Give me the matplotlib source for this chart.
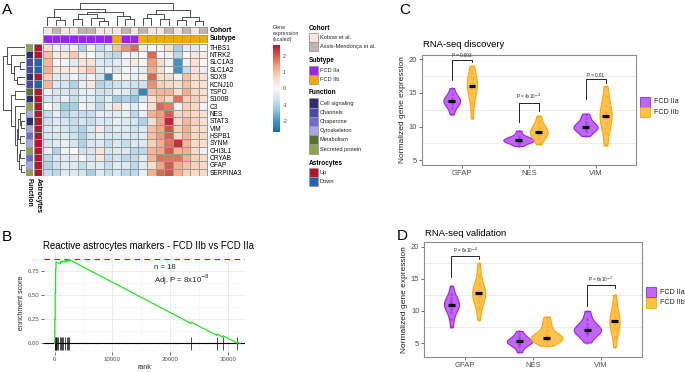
import numpy as np
import matplotlib
matplotlib.use("Agg")
import matplotlib.pyplot as plt
from matplotlib.colors import LinearSegmentedColormap, ListedColormap
from matplotlib.patches import Rectangle

plt.rcParams["font.family"] = ["Liberation Sans", "DejaVu Sans"]
plt.rcParams["axes.unicode_minus"] = False

# ---------------- data: panel A (heatmap) ----------------
genes = ["THBS1", "NTRK2", "SLC1A3", "SLC1A2", "SOX9", "KCNJ10", "TSPO", "S100B", "C3",
         "NES", "STAT3", "VIM", "HSPB1", "SYNM", "CHI3L1", "CRYAB", "GFAP", "SERPINA3"]
expr = [
    [0.6, -0.2, -0.4, 0.2, -1.0, 0.2, -0.8, -0.4, 1.0, 1.5, 1.9, -0.3, 0.0, -0.1, 0.5, -1.1, -0.4, -0.4, -0.1],
    [1.0, 0.3, 0.4, 0.9, 0.2, 0.0, -0.5, -0.8, -0.9, 0.0, -0.2, 0.0, 1.9, -0.1, -0.2, -0.9, 0.0, 0.4, 0.3],
    [1.1, 0.0, -0.1, -0.4, 0.4, 0.5, -0.5, -0.6, -0.4, -0.2, 0.3, -0.1, 1.4, 0.6, -0.2, -2.0, -0.2, 0.5, 0.0],
    [1.2, 0.4, 0.4, 0.3, 0.6, 0.9, -0.4, -0.2, -0.6, -0.1, -0.2, -0.3, 1.2, 0.6, 0.0, -2.0, -0.8, 0.5, -0.3],
    [0.8, -0.4, -0.4, -0.2, -0.5, -0.2, -0.6, -2.2, 0.0, -0.1, -0.3, 0.2, 1.9, 0.6, 0.6, -0.1, 1.0, 0.6, 0.5],
    [1.1, -0.5, -0.6, -1.0, -0.3, 0.4, -1.0, -0.8, -0.7, -0.6, -0.7, -0.7, 1.5, 0.8, 0.7, 0.6, 1.0, 0.6, 0.6],
    [-0.2, -0.6, -0.6, -0.7, -0.3, -0.3, -0.7, -0.7, -0.3, -0.4, -0.9, -2.2, 1.0, 1.1, 1.1, 0.6, 1.2, 0.7, 0.6],
    [-0.6, -0.6, -0.3, -0.8, -0.3, -0.4, -0.8, -0.4, -1.2, -1.0, -1.3, -0.6, 0.5, 1.0, 0.7, 1.8, 0.8, 0.8, 0.6],
    [0.0, -0.4, -1.2, -1.1, -0.1, -0.3, -0.9, -0.3, 0.5, -0.2, -0.4, 0.0, 0.6, 1.9, 1.7, -0.2, 0.8, 0.7, -0.2],
    [-0.8, -0.3, -0.9, -0.7, -0.8, -0.8, -0.3, -0.4, -0.4, -0.3, -0.9, -0.3, 1.2, 1.4, 2.0, 0.7, 0.8, 0.7, 0.6],
    [-0.7, -0.4, -0.6, -0.8, -0.6, -0.8, -0.5, -0.6, -0.3, -0.5, -0.6, -1.0, 0.6, 1.3, 2.5, 0.7, 1.1, 0.8, 0.6],
    [-0.5, -0.4, -0.6, -0.8, -1.0, -0.5, 0.3, -0.7, -0.4, -0.5, -0.7, -0.5, 1.0, 1.3, 2.1, 0.8, 1.2, 0.7, 0.6],
    [-0.6, -0.6, -0.4, -0.7, -1.0, -0.6, -0.3, -0.6, -0.6, -0.5, -0.6, -0.4, 1.0, 1.4, 2.0, 0.7, 1.1, 0.7, 0.7],
    [-0.6, -0.4, -0.3, -0.6, -1.0, -0.5, -0.4, -0.8, -0.5, -0.8, -0.5, -0.5, 0.8, 1.2, 1.8, 2.4, 1.1, 0.7, 0.6],
    [-0.3, -1.0, -0.2, 0.0, -0.7, -0.6, 0.5, -0.6, -0.4, -0.5, -0.9, -0.9, 1.1, 1.3, 2.0, 1.1, 1.2, 0.7, -0.2],
    [-0.9, -0.6, -0.4, -0.4, -0.1, -0.6, 0.4, -0.8, -0.6, -0.9, -0.8, -0.4, 1.1, 1.8, 1.8, 1.8, 1.2, 0.8, 0.7],
    [-1.0, -0.7, -0.4, -0.5, -0.8, -0.5, -0.4, -0.8, -0.4, -0.5, -0.9, -0.4, 0.6, 1.3, 2.0, 1.2, 1.0, 0.8, 0.7],
    [-0.8, -0.9, -0.4, -0.5, -0.6, -1.1, -0.4, -0.8, -0.6, -0.9, -0.9, -0.3, 1.2, 1.9, 2.1, 1.2, 0.8, 0.7, 0.7],
]
cohort_levels = ["Kobow et al.", "Assis-Mendonça et al."]
cohort = [0, 1, 0, 0, 1, 1, 0, 0, 0, 1, 0, 1, 0, 0, 1, 0, 1, 0, 1]
subtype_levels = ["FCD IIa", "FCD IIb"]
subtype = [0, 0, 0, 0, 0, 0, 0, 0, 1, 0, 0, 1, 1, 1, 1, 1, 1, 1, 1]
function_levels = ["Cell signaling", "Channels", "Chaperone", "Cytoskeleton", "Metabolism", "Secreted protein"]
gene_function = [5, 0, 1, 1, 0, 1, 4, 0, 5, 3, 0, 3, 2, 3, 5, 2, 3, 5]
astro_levels = ["Up", "Down"]
astro = [0, 0, 1, 1, 0, 1, 0, 0, 0, 0, 0, 0, 0, 0, 0, 0, 0, 0]

# linkage-style merges (a, b, height); ids >= n refer to earlier merges
col_tree = [(1, 2, 0.25), (0, 19, 0.4), (3, 4, 0.3), (6, 7, 0.2), (5, 22, 0.35),
            (21, 23, 0.5), (9, 10, 0.3), (8, 25, 0.45), (24, 26, 0.6), (20, 27, 0.75),
            (11, 12, 0.35), (13, 14, 0.3), (29, 30, 0.5), (15, 16, 0.25), (17, 18, 0.2),
            (32, 33, 0.4), (31, 34, 0.7), (28, 35, 1.0)]
row_tree = [(2, 3, 0.2), (4, 5, 0.35), (18, 19, 0.5), (1, 20, 0.6), (0, 21, 0.8),
            (6, 7, 0.45), (10, 11, 0.15), (9, 24, 0.2), (12, 13, 0.2), (25, 26, 0.3),
            (14, 15, 0.2), (16, 17, 0.15), (28, 29, 0.25), (27, 30, 0.35), (8, 31, 0.45),
            (23, 32, 0.6), (22, 33, 1.0)]

# ---------------- data: panel B (enrichment) ----------------
es_rank = [0, 30, 30, 100, 100, 180, 180, 250, 250, 1000, 1000, 1300, 1300, 1800, 1800,
           2100, 2100, 2500, 2500, 23650, 23650, 28100, 28100, 29160, 29160, 31650, 31650, 32100]
es_value = [0, 0, 0.25, 0.25, 0.52, 0.52, 0.77, 0.77, 0.84, 0.82, 0.845, 0.835, 0.85, 0.84, 0.855,
            0.845, 0.86, 0.85, 0.866, 0.205, 0.22, 0.081, 0.096, 0.063, 0.078, 0.0, 0.015, 0.0]
hit_ranks = [30, 100, 180, 250, 400, 600, 1000, 1150, 1300, 1500, 1800, 2100, 2300, 2500,
             23650, 28100, 29160, 31650]

# ---------------- data: panels C / D (violins) ----------------
markers = ["GFAP", "NES", "VIM"]
disc_iia = [[11.8, 12.8, 13.3, 13.6, 13.8, 13.8, 14.0, 14.3, 14.8, 15.7],
            [7.1, 7.6, 7.8, 7.9, 8.0, 8.0, 8.1, 8.3, 8.6, 9.4],
            [8.6, 9.3, 9.6, 9.8, 9.9, 10.0, 10.2, 10.6, 11.3, 11.9]]
disc_iib = [[11.2, 13.5, 15.0, 15.6, 16.0, 16.1, 16.5, 17.2, 18.0, 19.0],
            [7.4, 8.3, 8.8, 9.0, 9.1, 9.2, 9.5, 10.0, 10.6, 11.6],
            [7.2, 9.0, 10.5, 11.2, 11.5, 11.7, 12.2, 13.0, 14.5, 16.0]]
disc_p = ["P = 0.003", "P = 4x10$^{-4}$", "P = 0.01"]
valid_iia = [[7.5, 8.8, 9.8, 10.3, 10.7, 10.9, 11.0, 11.1, 11.3, 11.6, 12.0, 12.6, 13.9],
             [3.6, 4.5, 4.9, 5.1, 5.2, 5.3, 5.3, 5.5, 5.8, 6.3, 6.9],
             [5.1, 6.2, 6.6, 6.8, 7.0, 7.1, 7.2, 7.5, 8.0, 8.8, 10.0]]
valid_iib = [[8.6, 10.5, 11.5, 12.2, 12.5, 12.7, 12.8, 13.0, 13.4, 14.2, 15.5, 17.4],
             [4.6, 5.3, 5.5, 5.6, 5.7, 5.8, 5.8, 5.9, 6.0, 6.3, 6.9, 7.6, 8.3, 9.1],
             [4.4, 6.0, 7.2, 7.9, 8.2, 8.4, 8.5, 9.0, 9.8, 11.0, 12.5]]
valid_p = ["P = 6x10$^{-4}$", None, "P = 6x10$^{-3}$"]

# ---------------- styling ----------------
PURPLE, ORANGE = "#A020F0", "#FFA500"
cohort_colors = ["#FCE3E3", "#C9B1B1"]
function_colors = ["#2E2E70", "#4B4BA6", "#6A6AD2", "#A7A7E3", "#5A7030", "#90A34C"]
astro_colors = ["#B2182B", "#2166AC"]
hm_cmap = LinearSegmentedColormap.from_list(
    "rdbu", ["#2166AC", "#4393C3", "#92C5DE", "#D1E5F0", "#F7F7F7",
             "#FDDBC7", "#F4A582", "#D6604D", "#B2182B"])
GRID = "#EBEBEB"
TXT = "#4D4D4D"

W, H = 685, 372
fig = plt.figure(figsize=(W / 100, H / 100), dpi=100)


def box(x0, y0, x1, y1):
    return fig.add_axes([x0 / W, 1 - y1 / H, (x1 - x0) / W, (y1 - y0) / H])


def ftext(x, y, s, **kw):
    fig.text(x / W, 1 - y / H, s, **kw)


def fsquare(x, y, w, h, fc, ec="#9A9A9A"):
    fig.patches.append(Rectangle((x / W, 1 - (y + h) / H), w / W, h / H,
                                 transform=fig.transFigure, fc=fc, ec=ec, lw=0.6))


def bare(ax):
    ax.set_xticks([])
    ax.set_yticks([])
    for s in ax.spines.values():
        s.set_visible(False)


def dendro(ax, merges, n, top=True):
    pos = {i: i + 0.5 for i in range(n)}
    hgt = {i: 0.0 for i in range(n)}
    for k, (a, b, h) in enumerate(merges):
        xs = [pos[a], pos[a], pos[b], pos[b]]
        ys = [hgt[a], h, h, hgt[b]]
        if top:
            ax.plot(xs, ys, color="#333333", lw=0.6)
        else:
            ax.plot(ys, xs, color="#333333", lw=0.6)
        pos[n + k] = (pos[a] + pos[b]) / 2
        hgt[n + k] = h
    hmax = max(m[2] for m in merges)
    if top:
        ax.set_xlim(0, n)
        ax.set_ylim(0, hmax * 1.03)
    else:
        ax.set_ylim(n, 0)
        ax.set_xlim(hmax * 1.03, 0)
    bare(ax)


# ================= panel A =================
ncol, nrow = len(expr[0]), len(expr)
ax_hm = box(43, 43.6, 207.5, 176)
mesh = ax_hm.pcolormesh(np.array(expr), cmap=hm_cmap, vmin=-2.65, vmax=2.65,
                        edgecolors="#9A9A9A", linewidth=0.4)
ax_hm.set_xlim(0, ncol)
ax_hm.set_ylim(nrow, 0)
for s in ax_hm.spines.values():
    s.set_visible(False)
ax_hm.set_xticks([])
ax_hm.yaxis.tick_right()
ax_hm.set_yticks(np.arange(nrow) + 0.5)
ax_hm.set_yticklabels(genes, fontsize=4.7)
ax_hm.tick_params(axis="y", length=0, pad=1.5)

ax_co = box(43, 26.7, 207.5, 34.2)
ax_co.pcolormesh(np.array([cohort]), cmap=ListedColormap(cohort_colors), vmin=-0.5, vmax=1.5,
                 edgecolors="#9A9A9A", linewidth=0.4)
bare(ax_co)
ax_co.set_xlim(0, ncol)
ax_su = box(43, 34.8, 207.5, 42.6)
ax_su.pcolormesh(np.array([subtype]), cmap=ListedColormap([PURPLE, ORANGE]), vmin=-0.5, vmax=1.5,
                 edgecolors="#9A9A9A", linewidth=0.4)
bare(ax_su)
ax_su.set_xlim(0, ncol)
ftext(209.5, 30.5, "Cohort", fontsize=4.9, fontweight="bold", va="center")
ftext(209.5, 38.7, "Subtype", fontsize=4.9, fontweight="bold", va="center")

ax_fn = box(25.5, 43.6, 33.2, 176)
ax_fn.pcolormesh(np.array(gene_function)[:, None], cmap=ListedColormap(function_colors),
                 vmin=-0.5, vmax=5.5, edgecolors="#9A9A9A", linewidth=0.4)
ax_fn.set_ylim(nrow, 0)
bare(ax_fn)
ax_as = box(34, 43.6, 41.7, 176)
ax_as.pcolormesh(np.array(astro)[:, None], cmap=ListedColormap(astro_colors),
                 vmin=-0.5, vmax=1.5, edgecolors="#9A9A9A", linewidth=0.4)
ax_as.set_ylim(nrow, 0)
bare(ax_as)
ftext(29.4, 177.5, "Function", fontsize=4.9, fontweight="bold", rotation=270, ha="center", va="top")
ftext(37.9, 177.5, "Astrocytes", fontsize=4.9, fontweight="bold", rotation=270, ha="center", va="top")

dendro(box(43, 2, 207.5, 26), col_tree, ncol, top=True)
dendro(box(2, 43.6, 24.5, 176), row_tree, nrow, top=False)

# colour bar
cax = box(273, 45, 279.5, 132)
cb = fig.colorbar(mesh, cax=cax, ticks=[-2, -1, 0, 1, 2])
cb.outline.set_visible(False)
cax.tick_params(labelsize=4, length=0, pad=2, colors=TXT)
ftext(272.5, 33.5, "Gene\nexpression\n(scaled)", fontsize=3.9, va="center", ha="left",
      linespacing=1.25, color="#333333")

# annotation legends
def legend_group(title, y_title, y_first, labels, colors):
    ftext(309, y_title, title, fontsize=4.7, fontweight="bold", va="center")
    for i, (lab, col) in enumerate(zip(labels, colors)):
        y = y_first + i * 9.2
        fsquare(309, y, 8.5, 9.2, col)
        ftext(320, y + 4.6, lab, fontsize=4.1, va="center", color="#222222")


legend_group("Cohort", 28, 33, cohort_levels, cohort_colors)
legend_group("Subtype", 61, 65.8, subtype_levels, [PURPLE, ORANGE])
legend_group("Function", 93, 98.4, function_levels, function_colors)
legend_group("Astrocytes", 163, 167.6, astro_levels, astro_colors)

ftext(2, 3, "A", fontsize=11, va="top")

# ================= panel B =================
ax_b = box(44, 253, 245, 352)
ax_b.set_xlim(-1835, 32990)
ax_b.set_ylim(-0.09, 0.933)
ax_b.set_xticks([0, 10000, 20000, 30000])
ax_b.set_xticks([5000, 15000, 25000], minor=True)
ax_b.set_yticks([0, 0.25, 0.5, 0.75])
ax_b.set_yticks([0.125, 0.375, 0.625], minor=True)
ax_b.set_yticklabels(["0.00", "0.25", "0.50", "0.75"])
ax_b.grid(which="major", color=GRID, lw=0.7)
ax_b.grid(which="minor", color="#F4F4F4", lw=0.4)
ax_b.set_axisbelow(True)
for s in ax_b.spines.values():
    s.set_visible(False)
ax_b.tick_params(which="major", labelsize=4.3, length=2, width=0.5, color="#333333",
                 labelcolor=TXT, pad=1.5)
ax_b.tick_params(which="minor", length=0)
ax_b.axhline(max(es_value), color="red", ls=(0, (5, 4)), lw=0.8)
ax_b.axhline(min(es_value), color="red", ls=(0, (5, 4)), lw=0.8)
ax_b.axhline(0, color="black", lw=0.8)
ax_b.vlines(hit_ranks, -0.065, 0.065, color="black", lw=0.5)
ax_b.plot(es_rank, es_value, color="#22E522", lw=0.9)
ax_b.text(17200, 0.70, "n = 18\nAdj. P = 8x10$^{-8}$", fontsize=5.6, va="center", ha="left",
          linespacing=1.2, color="#222222")
ax_b.set_ylabel("enrichment score", fontsize=5, labelpad=2, color="#222222")
ax_b.set_xlabel("rank", fontsize=5, labelpad=1.5, color="#222222")
ftext(43.3, 246, "Reactive astrocytes markers - FCD IIb vs FCD IIa", fontsize=6.9, va="center")
ftext(2, 230, "B", fontsize=11, va="top")


# ================= panels C / D =================
def violin_panel(ax, iia, iib, dodge, w_a, w_b, ylim, brackets, plabels):
    pos = np.arange(1, len(markers) + 1)
    for data, off, widths, col in [(iia, -dodge, w_a, PURPLE), (iib, dodge, w_b, ORANGE)]:
        p = pos + off
        parts = ax.violinplot(data, positions=p, widths=widths, showextrema=False)
        rgb = matplotlib.colors.to_rgb(col)
        for body in parts["bodies"]:
            body.set_facecolor((*rgb, 0.68))
            body.set_edgecolor(col)
            body.set_linewidth(0.8)
            body.set_alpha(None)
        for xi, vals in zip(p, data):
            ax.scatter(np.full(len(vals), xi), vals, s=5, color=col, alpha=0.45, lw=0, zorder=3)
            ax.hlines(np.median(vals), xi - 0.05, xi + 0.05, color="black", lw=2.3, zorder=4)
    for i, (br, lab) in enumerate(zip(brackets, plabels)):
        if lab is None:
            continue
        top, left_end, right_end = br
        xa, xb = pos[i] - dodge, pos[i] + dodge
        ax.plot([xa, xa, xb, xb], [left_end, top, top, right_end], color="black", lw=0.6)
        ax.text((xa + xb) / 2, top + 0.25, lab, fontsize=3.3, ha="center", va="bottom", color="#222222")
    ax.set_xlim(0.4, 3.6)
    ax.set_ylim(*ylim)
    ax.set_xticks(pos)
    ax.set_xticklabels(markers)
    ax.set_yticks([5, 10, 15, 20])
    ax.set_yticks([7.5, 12.5, 17.5], minor=True)
    ax.grid(which="minor", axis="y", color=GRID, lw=0.7)
    ax.set_axisbelow(True)
    for s in ax.spines.values():
        s.set_color("#8C8C8C")
        s.set_linewidth(0.8)
    ax.tick_params(which="major", labelsize=5.5, length=2, width=0.5, color="#333333",
                   labelcolor=TXT, pad=1.5)
    ax.tick_params(which="minor", length=0)
    ax.set_ylabel("Normalized gene expression", fontsize=6, labelpad=2, color="#222222")


def violin_legend(x, y):
    for i, (lab, col) in enumerate(zip(subtype_levels, [PURPLE, ORANGE])):
        rgb = matplotlib.colors.to_rgb(col)
        fsquare(x, y + i * 10.6, 10, 10, (*rgb, 0.68), ec=col)
        ftext(x + 14.5, y + i * 10.6 + 5, lab, fontsize=5.1, va="center", color="#222222")


ax_c = box(421.7, 55, 635.7, 165)
violin_panel(ax_c, disc_iia, disc_iib, 0.15, [0.25, 0.46, 0.36], [0.15, 0.27, 0.18],
             (4.3, 20.6), [(19.9, 16.9, 19.5), (13.5, 10.6, 12.3), (17.0, 14.1, 16.4)], disc_p)
ftext(422.7, 44.5, "RNA-seq discovery", fontsize=6.8, va="center")
violin_legend(640, 96.7)
ftext(399, 3, "C", fontsize=11, va="top")

ax_d = box(424.3, 241.7, 641.7, 356.7)
violin_panel(ax_d, valid_iia, valid_iib, 0.2, [0.22, 0.37, 0.40], [0.19, 0.47, 0.15],
             (2.9, 20.75), [(18.5, 15.3, 18.1), None, (14.0, 10.8, 13.5)], valid_p)
ftext(425, 233.3, "RNA-seq validation", fontsize=6.8, va="center")
violin_legend(646, 287.3)
ftext(397, 229, "D", fontsize=11, va="top")

fig.savefig("out.png", dpi=100)
